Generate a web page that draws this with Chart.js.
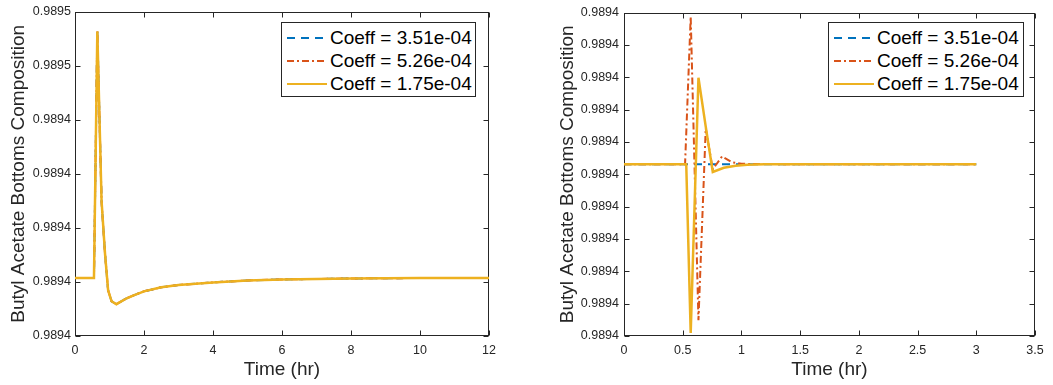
<!DOCTYPE html>
<html>
<head>
<title>Butyl Acetate Bottoms Composition</title>
<script src="https://cdn.jsdelivr.net/npm/chart.js@4.4.1/dist/chart.umd.min.js"></script>
<style>
body { margin: 0; background: #fff; font-family: "Liberation Sans", Arial, sans-serif; }
#wrap { position: relative; width: 1053px; height: 385px; }
canvas { position: absolute; top: 0; }
.legend { position: absolute; top: 22px; height: 75px; box-sizing: border-box; border: 1px solid #262626; background: #fff; padding-top: 3px; }
.legend .item { display: flex; align-items: center; height: 23px; font-size: 19px; color: #000; white-space: nowrap; }
.legend svg { margin-left: 5px; margin-right: 3px; }
</style>
</head>
<body>
<div id="wrap">
  <canvas id="left" width="527" height="385" style="left:0"></canvas>
  <canvas id="right" width="526" height="385" style="left:527px"></canvas>
  <div class="legend" id="legendLeft" style="left:281px; width:195px"></div>
  <div class="legend" id="legendRight" style="left:828px; width:196px"></div>
</div>

<script>
// series names, same for both panels
var seriesLabels = ['Coeff = 3.51e-04', 'Coeff = 5.26e-04', 'Coeff = 1.75e-04'];
var seriesColors = ['#0072BD', '#D95319', '#EDB120'];
var seriesDash = [[8, 6], [7, 3, 2, 3], []];
var seriesWidth = [2, 2, 2.5];

// left panel: 0..12 hr, the three curves lie on top of each other
var leftTime = [0, 0.55, 0.647, 0.77, 0.87, 0.96, 1.06, 1.2, 1.5, 1.7, 2, 2.5, 3, 4, 5, 6, 8, 10, 12];
var leftComposition = [0.98943037, 0.98943037, 0.98945316, 0.98943748, 0.98943261, 0.98942922, 0.98942821,
    0.98942794, 0.98942849, 0.98942876, 0.98942913, 0.98942950, 0.98942972, 0.98942995, 0.98943014,
    0.98943023, 0.98943032, 0.98943036, 0.98943037];
var leftYTicks = [0.989425, 0.98943, 0.989435, 0.98944, 0.989445, 0.98945, 0.989455];
var leftYLabels = ['0.9894', '0.9894', '0.9894', '0.9894', '0.9894', '0.9895', '0.9895'];

// right panel: 0..3 hr, zoomed in
var rightTimeA = [0, 0.5, 1, 1.5, 2, 2.5, 3];
var rightCoeffA = [0.9894300307, 0.9894300307, 0.9894300307, 0.9894300307, 0.9894300307, 0.9894300307, 0.9894300307];
var rightTimeB = [0, 0.52, 0.568, 0.634, 0.696, 0.756, 0.835, 0.92, 1.0, 1.5, 3];
var rightCoeffB = [0.9894300307, 0.9894300307, 0.9894304877, 0.9894295491, 0.9894301420, 0.9894300153,
    0.9894300552, 0.9894300368, 0.9894300322, 0.9894300307, 0.9894300307];
var rightTimeC = [0, 0.53, 0.568, 0.634, 0.696, 0.756, 0.85, 0.95, 1.05, 1.2, 3];
var rightCoeffC = [0.9894300307, 0.9894300307, 0.9894295092, 0.9894302985, 0.9894301472, 0.9894300071,
    0.9894300199, 0.9894300261, 0.9894300291, 0.9894300307, 0.9894300307];
var rightYTicks = [0.9894295, 0.9894296, 0.9894297, 0.9894298, 0.9894299, 0.98943, 0.9894301,
    0.9894302, 0.9894303, 0.9894304, 0.9894305];
var rightYLabels = ['0.9894', '0.9894', '0.9894', '0.9894', '0.9894', '0.9894', '0.9894', '0.9894', '0.9894', '0.9894', '0.9894'];

var axisColor = '#262626';
var fontFamily = '"Liberation Sans", Arial, sans-serif';

function points(t, v) {
    return t.map(function (x, i) { return { x: x, y: v[i] }; });
}

// box round the plot and ticks pointing inwards on all four sides
var boxPlugin = {
    id: 'matlabBox',
    beforeDatasetsDraw: function (chart) {
        var a = chart.chartArea, ctx = chart.ctx;
        var xs = chart.scales.x, ys = chart.scales.y;
        var L = Math.round(a.left) + 0.5, R = Math.round(a.right) - 0.5;
        var T = Math.round(a.top) + 0.5, B = Math.round(a.bottom) - 0.5;
        ctx.save();
        ctx.strokeStyle = axisColor;
        ctx.lineWidth = 1;
        ctx.beginPath();
        xs.ticks.forEach(function (t) {
            var px = Math.round(xs.getPixelForValue(t.value)) + 0.5;
            ctx.moveTo(px, B); ctx.lineTo(px, B - 5);
            ctx.moveTo(px, T); ctx.lineTo(px, T + 5);
        });
        ys.ticks.forEach(function (t) {
            var py = Math.round(ys.getPixelForValue(t.value)) + 0.5;
            ctx.moveTo(L, py); ctx.lineTo(L + 5, py);
            ctx.moveTo(R, py); ctx.lineTo(R - 5, py);
        });
        ctx.stroke();
        ctx.strokeRect(L, T, R - L, B - T);
        ctx.restore();
    }
};

function makeChart(id, cfg) {
    var datasets = cfg.series.map(function (s, i) {
        return {
            label: seriesLabels[i],
            data: s,
            borderColor: seriesColors[i],
            borderDash: seriesDash[i],
            borderWidth: seriesWidth[i],
            pointRadius: 0,
            fill: false,
            tension: 0,
            order: 2 - i   // yellow on top
        };
    });

    var chart = new Chart(document.getElementById(id), {
        type: 'line',
        data: { datasets: datasets },
        plugins: [boxPlugin],
        options: {
            responsive: false,
            animation: false,
            layout: { padding: cfg.padding },
            plugins: { legend: { display: false }, tooltip: { enabled: false } },
            scales: {
                x: {
                    type: 'linear',
                    min: cfg.xMin, max: cfg.xMax,
                    grid: { display: false, drawTicks: false },
                    border: { display: false },
                    ticks: { stepSize: cfg.xStep, color: axisColor, padding: 7, maxRotation: 0,
                             font: { family: fontFamily, size: 12.5 },
                             callback: function (v) { return String(v); } },
                    title: { display: true, text: 'Time (hr)', color: axisColor,
                             padding: { top: 0, bottom: 4 }, font: { family: fontFamily, size: 19 } },
                    afterFit: function (s) { s.height = 49; }
                },
                y: {
                    min: cfg.yTicks[0], max: cfg.yTicks[cfg.yTicks.length - 1],
                    grid: { display: false, drawTicks: false },
                    border: { display: false },
                    afterBuildTicks: function (s) {
                        s.ticks = cfg.yTicks.map(function (v) { return { value: v }; });
                    },
                    ticks: {
                        color: axisColor, padding: cfg.yPad,
                        font: { family: fontFamily, size: 12.5 },
                        callback: function (v, i) { return cfg.yLabels[i]; }
                    },
                    title: { display: true, text: 'Butyl Acetate Bottoms Composition', color: axisColor,
                             padding: { top: cfg.titlePad, bottom: 0 }, font: { family: fontFamily, size: 19 } },
                    afterFit: function (s) { s.width = cfg.yWidth; }
                }
            }
        }
    });
    return chart;
}

function buildLegend(chart, elId) {
    var box = document.getElementById(elId);
    chart.data.datasets.forEach(function (ds) {
        var item = document.createElement('div');
        item.className = 'item';
        var dash = ds.borderDash.length ? ds.borderDash.join(' ') : 'none';
        item.innerHTML = '<svg width="40" height="4"><line x1="0" y1="2" x2="40" y2="2" stroke="' + ds.borderColor +
            '" stroke-width="2" stroke-dasharray="' + dash + '"/></svg><span>' + ds.label + '</span>';
        box.appendChild(item);
    });
}

var leftChart = makeChart('left', {
    series: [points(leftTime, leftComposition), points(leftTime, leftComposition), points(leftTime, leftComposition)],
    xMin: 0, xMax: 12, xStep: 2,
    yTicks: leftYTicks, yLabels: leftYLabels,
    yWidth: 75, yPad: 4, titlePad: 7,
    padding: { top: 9, right: 38, left: 0, bottom: 0 }
});

var rightChart = makeChart('right', {
    series: [points(rightTimeA, rightCoeffA), points(rightTimeB, rightCoeffB), points(rightTimeC, rightCoeffC)],
    xMin: 0, xMax: 3.5, xStep: 0.5,
    yTicks: rightYTicks, yLabels: rightYLabels,
    yWidth: 97, yPad: 5, titlePad: 29,
    padding: { top: 10, right: 18, left: 0, bottom: 0 }
});

buildLegend(leftChart, 'legendLeft');
buildLegend(rightChart, 'legendRight');
</script>
</body>
</html>
